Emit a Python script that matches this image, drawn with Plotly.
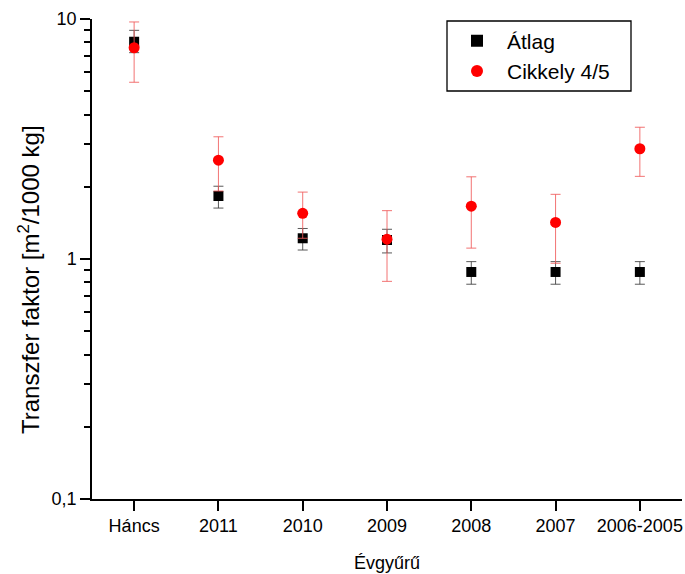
import plotly.graph_objects as go

categories = ["Háncs", "2011", "2010", "2009", "2008", "2007", "2006-2005"]

atlag_mean = [8.04, 1.83, 1.22, 1.20, 0.883, 0.883, 0.883]
atlag_upper = [8.97, 2.01, 1.34, 1.33, 0.975, 0.975, 0.975]
atlag_lower = [7.24, 1.63, 1.09, 1.06, 0.785, 0.785, 0.785]

cikkely_mean = [7.59, 2.58, 1.55, 1.21, 1.66, 1.42, 2.88]
cikkely_upper = [9.72, 3.23, 1.90, 1.59, 2.20, 1.86, 3.54]
cikkely_lower = [5.45, 1.92, 1.22, 0.807, 1.11, 0.96, 2.21]

y_tickvals = [0.1, 1, 10]
y_ticktext = ["0,1", "1", "10"]
y_minor = [0.2, 0.3, 0.4, 0.5, 0.6, 0.7, 0.8, 0.9, 2, 3, 4, 5, 6, 7, 8, 9]

xi = list(range(len(categories)))

fig = go.Figure()
fig.add_trace(go.Scatter(
    x=xi, y=atlag_mean, mode="markers", name="Átlag",
    marker=dict(symbol="square", size=10, color="black"),
    error_y=dict(type="data", symmetric=False,
                 array=[u - m for u, m in zip(atlag_upper, atlag_mean)],
                 arrayminus=[m - l for m, l in zip(atlag_mean, atlag_lower)],
                 color="rgba(60,60,60,0.85)", thickness=1, width=5),
))
fig.add_trace(go.Scatter(
    x=xi, y=cikkely_mean, mode="markers", name="Cikkely 4/5",
    marker=dict(symbol="circle", size=11, color="#ff0000"),
    error_y=dict(type="data", symmetric=False,
                 array=[u - m for u, m in zip(cikkely_upper, cikkely_mean)],
                 arrayminus=[m - l for m, l in zip(cikkely_mean, cikkely_lower)],
                 color="rgba(240,90,90,0.85)", thickness=1, width=5),
))

# layout geometry (page pixels)
W, H = 685, 574
L, R, T, B = 92, 3, 19, 75
PW, PH = W - L - R, H - T - B


def px(x):
    return (x - L) / PW


def py(y):
    return 1 - (y - T) / PH


# x axis line extends a little left of the y axis
fig.add_shape(type="line", xref="paper", yref="paper", x0=px(83), x1=0, y0=0, y1=0,
              line=dict(color="black", width=1.5))
# legend frame
fig.add_shape(type="rect", xref="paper", yref="paper", x0=px(447), x1=px(631),
              y0=py(91), y1=py(21), line=dict(color="black", width=1.3),
              fillcolor="white", layer="above")

font = "Arial, Liberation Sans, sans-serif"
fig.add_annotation(text="Transzfer faktor [m<sup>2</sup>/1000 kg]", xref="paper", yref="paper",
                   x=px(29), y=py(280), xanchor="center", yanchor="middle",
                   textangle=-90, showarrow=False, font=dict(size=24, family=font))
fig.add_annotation(text="Évgyűrű", xref="paper", yref="paper",
                   x=px(387), y=py(563), xanchor="center", yanchor="middle",
                   showarrow=False, font=dict(size=18, family=font))

fig.update_layout(
    width=W, height=H,
    margin=dict(l=L, r=R, t=T, b=B),
    paper_bgcolor="white", plot_bgcolor="white",
    font=dict(family=font, color="black", size=18),
    showlegend=True,
    legend=dict(x=px(447), y=py(20.5), xanchor="left", yanchor="top",
                borderwidth=0, bgcolor="rgba(0,0,0,0)",
                font=dict(size=21, family=font), itemsizing="constant",
                itemwidth=50, tracegroupgap=2),
    xaxis=dict(
        range=[-0.5, 6.5], tickmode="array", tickvals=xi, ticktext=categories,
        showline=True, linecolor="black", linewidth=1.5,
        ticks="outside", ticklen=10, tickwidth=1.5, tickcolor="black",
        showgrid=False, zeroline=False, tickfont=dict(size=18),
    ),
    yaxis=dict(
        type="log", range=[-1, 1], tickmode="array",
        tickvals=y_tickvals, ticktext=y_ticktext,
        showline=True, linecolor="black", linewidth=1.5,
        ticks="outside", ticklen=10, tickwidth=1.5, tickcolor="black",
        minor=dict(tickmode="array", tickvals=y_minor, ticks="outside",
                   ticklen=6, tickwidth=1.5, tickcolor="black", showgrid=False),
        showgrid=False, zeroline=False, tickfont=dict(size=18),
    ),
)

fig.write_html(
    "out.html",
    config={"displayModeBar": False},
    post_script="document.body.style.margin='0';document.body.style.overflow='hidden';",
)
